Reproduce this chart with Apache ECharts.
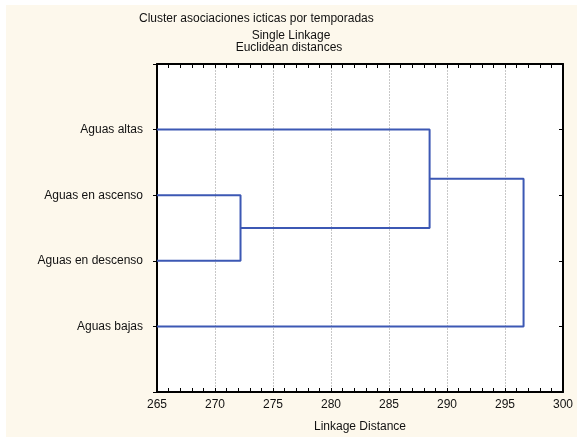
<!DOCTYPE html>
<html>
<head>
<meta charset="utf-8">
<script src="https://cdn.jsdelivr.net/npm/echarts@6/dist/echarts.min.js"></script>
<style>
  html, body { margin: 0; padding: 0; background: #ffffff; }
  #chart { width: 577px; height: 438px; }
</style>
</head>
<body>
<div id="chart"></div>
<script>
// Leaves, top to bottom
const categories = ['Aguas altas', 'Aguas en ascenso', 'Aguas en descenso', 'Aguas bajas'];
// Joins: [left member, right member, linkage distance]; members >= 4 refer to earlier joins
const merges = [
  [1, 2, 272.2],
  [0, 4, 288.5],
  [5, 3, 296.6]
];
const xTicks = { min: 265, max: 300, step: 5 };

// Position of each node: [distance, row]
const nodes = categories.map((_, i) => [xTicks.min, i + 1]);
const segments = [];
merges.forEach(([a, b, h]) => {
  const pa = nodes[a], pb = nodes[b];
  segments.push([[pa[0], pa[1]], [h, pa[1]], [h, pb[1]], [pb[0], pb[1]]]);
  nodes.push([h, (pa[1] + pb[1]) / 2]);
});

const font = 'Liberation Sans, Arial, sans-serif';
const ink = '#111111';
const chart = echarts.init(document.getElementById('chart'), null, { renderer: 'canvas' });

const lineSeries = segments.map(seg => ({
  type: 'line',
  data: seg,
  xAxisIndex: 0,
  yAxisIndex: 0,
  symbol: 'none',
  silent: true,
  animation: false,
  lineStyle: { color: '#3c58b4', width: 2 }
}));

const titleStyle = { fontFamily: font, fontSize: 12, fontWeight: 'normal', color: ink };

chart.setOption({
  backgroundColor: '#ffffff',
  animation: false,
  graphic: [{
    type: 'rect',
    shape: { x: 6, y: 5, width: 571, height: 432 },
    style: { fill: '#fdf8ec' },
    z: -10,
    silent: true
  }],
  title: [
    { text: 'Cluster asociaciones icticas por temporadas', left: 139, top: 13, padding: 0, textStyle: titleStyle },
    { text: 'Single Linkage', left: 291, top: 30, padding: 0, textAlign: 'center', textStyle: titleStyle },
    { text: 'Euclidean distances', left: 289, top: 42, padding: 0, textAlign: 'center', textStyle: titleStyle }
  ],
  grid: { left: 157, right: 14, top: 64, bottom: 45, backgroundColor: '#ffffff', show: true, borderWidth: 0 },
  xAxis: [
    {
      type: 'value', position: 'bottom', min: xTicks.min, max: xTicks.max, interval: xTicks.step,
      name: 'Linkage Distance', nameLocation: 'middle', nameGap: 29,
      nameTextStyle: { fontFamily: font, fontSize: 12, color: ink },
      axisLine: { show: true, onZero: false, lineStyle: { color: '#000', width: 2 } },
      axisTick: { show: true, inside: true, length: 4, lineStyle: { color: '#000', width: 1 } },
      minorTick: { show: true, splitNumber: 5, length: 4, lineStyle: { color: '#000', width: 1 } },
      axisLabel: { fontFamily: font, fontSize: 12, color: ink, margin: 7 },
      splitLine: { show: true, lineStyle: { color: '#c8c8c8', type: [2, 1], width: 1 } }
    },
    {
      type: 'value', position: 'top', min: xTicks.min, max: xTicks.max, interval: xTicks.step,
      axisLine: { show: true, onZero: false, lineStyle: { color: '#000', width: 2 } },
      axisTick: { show: true, inside: true, length: 4, lineStyle: { color: '#000', width: 1 } },
      minorTick: { show: true, splitNumber: 5, length: 4, lineStyle: { color: '#000', width: 1 } },
      axisLabel: { show: false },
      splitLine: { show: false }
    }
  ],
  yAxis: [
    {
      type: 'value', position: 'left', min: 0, max: categories.length + 1, interval: 1, inverse: true,
      axisLine: { show: true, onZero: false, lineStyle: { color: '#000', width: 2 } },
      axisTick: { show: true, length: 4, lineStyle: { color: '#000', width: 1 } },
      axisLabel: {
        fontFamily: font, fontSize: 12, color: ink, margin: 14,
        formatter: v => categories[v - 1] || ''
      },
      splitLine: { show: false }
    },
    {
      type: 'value', position: 'right', min: 0, max: categories.length + 1, interval: 1, inverse: true,
      axisLine: { show: true, onZero: false, lineStyle: { color: '#000', width: 2 } },
      axisTick: { show: true, inside: true, length: 4, lineStyle: { color: '#000', width: 1 } },
      axisLabel: { show: false },
      splitLine: { show: false }
    }
  ],
  series: lineSeries
});
</script>
</body>
</html>
